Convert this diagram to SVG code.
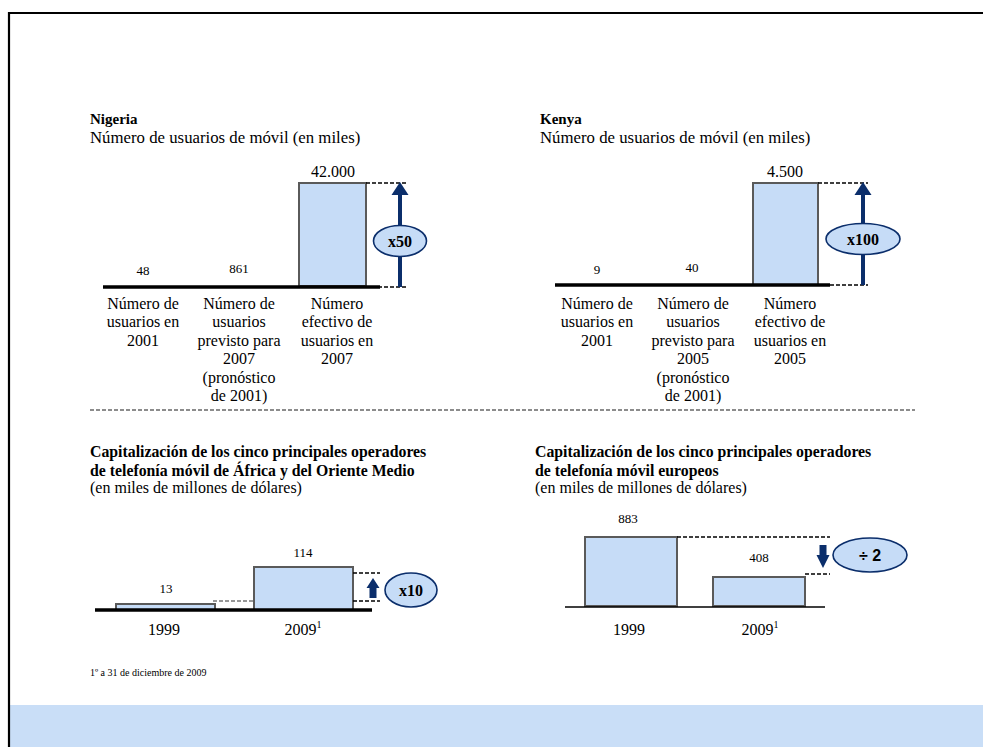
<svg xmlns="http://www.w3.org/2000/svg" width="983" height="747" viewBox="0 0 983 747">
<style>
.t{font-family:"Liberation Serif","Times New Roman",serif;fill:#000}
.b{font-weight:bold}
.s16{font-size:16px}
.sub{font-size:16.8px}
.s15{font-size:15px}
.s13{font-size:13px}
.m{text-anchor:middle}
.bar{fill:#c6dcf7;stroke:#5a5a5a;stroke-width:2}
.axis{stroke:#000;stroke-width:3.5}
.axt{stroke:#000;stroke-width:1.6}
.dk{stroke:#000;stroke-width:1.4;stroke-dasharray:4 2;fill:none}
.dg{stroke:#777;stroke-width:1.4;stroke-dasharray:4 2;fill:none}
.arr{stroke:#0b2e6b;stroke-width:4;fill:none}
.ah{fill:#0b2e6b}
.bub{fill:#c6dcf7;stroke:#0b2e6b;stroke-width:1.6}
.bt{font-family:"Liberation Serif","Times New Roman",serif;font-weight:bold;font-size:16px;text-anchor:middle;fill:#000}
</style>
<rect width="983" height="747" fill="#fff"/>
<rect x="9" y="705" width="974" height="42" fill="#c9def7"/>
<path d="M9,747 V13 H983" fill="none" stroke="#000" stroke-width="2.2"/>
<line x1="90" y1="410" x2="915" y2="410" stroke="#8c8c8c" stroke-width="2" stroke-dasharray="4 2"/>

<g id="nigeria">
<text class="t b s15" x="90" y="124">Nigeria</text>
<text class="t sub" x="90" y="142.5">Número de usuarios de móvil (en miles)</text>
<rect class="bar" x="299" y="183" width="67" height="103"/>
<line class="axis" x1="103" y1="287" x2="380" y2="287"/>
<text class="t s16 m" x="333" y="177">42.000</text>
<text class="t s13 m" x="143" y="275">48</text>
<text class="t s13 m" x="239" y="273">861</text>
<g class="t s16 m">
<text x="143" y="308.5">Número de</text>
<text x="143" y="327">usuarios en</text>
<text x="143" y="345.5">2001</text>
<text x="239" y="308.5">Número de</text>
<text x="239" y="327">usuarios</text>
<text x="239" y="345.5">previsto para</text>
<text x="239" y="364">2007</text>
<text x="239" y="382.5">(pronóstico</text>
<text x="239" y="401">de 2001)</text>
<text x="337" y="308.5">Número</text>
<text x="337" y="327">efectivo de</text>
<text x="337" y="345.5">usuarios en</text>
<text x="337" y="364">2007</text>
</g>
</g>

<g id="kenya">
<text class="t b s15" x="540" y="124">Kenya</text>
<text class="t sub" x="540" y="142.5">Número de usuarios de móvil (en miles)</text>
<rect class="bar" x="753" y="183" width="65" height="102"/>
<line class="axis" x1="555" y1="285" x2="830" y2="285"/>
<text class="t s16 m" x="785" y="177">4.500</text>
<text class="t s13 m" x="597" y="274">9</text>
<text class="t s13 m" x="692" y="272">40</text>
<g class="t s16 m">
<text x="597" y="308.5">Número de</text>
<text x="597" y="327">usuarios en</text>
<text x="597" y="345.5">2001</text>
<text x="693" y="308.5">Número de</text>
<text x="693" y="327">usuarios</text>
<text x="693" y="345.5">previsto para</text>
<text x="693" y="364">2005</text>
<text x="693" y="382.5">(pronóstico</text>
<text x="693" y="401">de 2001)</text>
<text x="790" y="308.5">Número</text>
<text x="790" y="327">efectivo de</text>
<text x="790" y="345.5">usuarios en</text>
<text x="790" y="364">2005</text>
</g>
</g>

<g id="africa">
<text class="t b" font-size="15.8" x="90" y="457">Capitalización de los cinco principales operadores</text>
<text class="t b" font-size="15.8" x="90" y="476">de telefonía móvil de África y del Oriente Medio</text>
<text class="t s16" x="90" y="493">(en miles de millones de dólares)</text>
<rect class="bar" x="116" y="604" width="99" height="6"/>
<rect class="bar" x="254" y="567" width="99" height="43"/>
<line class="axis" x1="95" y1="610" x2="372" y2="610"/>
<text class="t s13 m" x="166" y="593">13</text>
<text class="t s13 m" x="303" y="557">114</text>
<text class="t s16 m" x="164" y="635">1999</text>
<text class="t s16 m" x="303" y="635">2009<tspan font-size="10" dy="-7">1</tspan></text>
<text class="t" font-size="10" x="90" y="676">1º a 31 de diciembre de 2009</text>
</g>

<g id="europe">
<text class="t b" font-size="15.8" x="535" y="457">Capitalización de los cinco principales operadores</text>
<text class="t b" font-size="15.8" x="535" y="476">de telefonía móvil europeos</text>
<text class="t s16" x="535" y="493">(en miles de millones de dólares)</text>
<rect class="bar" x="585" y="537" width="92" height="69"/>
<rect class="bar" x="713" y="577" width="92" height="29"/>
<line class="axt" x1="565" y1="607" x2="825" y2="607"/>
<text class="t s13 m" x="628" y="523">883</text>
<text class="t s13 m" x="759" y="562">408</text>
<text class="t s16 m" x="629" y="635">1999</text>
<text class="t s16 m" x="760" y="635">2009<tspan font-size="10" dy="-7">1</tspan></text>
</g>

<g id="connectors">
<line class="dk" x1="366" y1="183" x2="408" y2="183"/>
<line class="dk" x1="366" y1="287" x2="408" y2="287" stroke-width="1"/>
<line class="arr" x1="400" y1="287" x2="400" y2="192"/>
<path class="ah" d="M400,182 L408.5,195 L391.5,195 Z"/>

<line class="dk" x1="818" y1="183" x2="868" y2="183"/>
<line class="dk" x1="818" y1="285" x2="868" y2="285" stroke-width="1"/>
<line class="arr" x1="863" y1="285" x2="863" y2="192"/>
<path class="ah" d="M863,182 L871.5,195 L854.5,195 Z"/>

<line class="dg" x1="213" y1="601" x2="254" y2="601"/>
<line class="dk" x1="353" y1="601" x2="380" y2="601"/>
<line class="dk" x1="353" y1="573" x2="380" y2="573"/>
<path class="ah" d="M373,578 L379.5,588 L376.5,588 L376.5,598 L369.5,598 L369.5,588 L366.5,588 Z"/>

<line class="dk" x1="677" y1="537" x2="830" y2="537"/>
<line class="dk" x1="805" y1="574" x2="830" y2="574"/>
<path class="ah" d="M823,568 L829.5,555 L826.5,555 L826.5,545 L819.5,545 L819.5,555 L816.5,555 Z"/>
</g>

<g id="bubble-x50">
<ellipse class="bub" cx="400" cy="241" rx="26.5" ry="15.5"/>
<text class="bt" x="400" y="247">x50</text>
</g>
<g id="bubble-x100">
<ellipse class="bub" cx="863" cy="239" rx="37" ry="15.5"/>
<text class="bt" x="863" y="245">x100</text>
</g>
<g id="bubble-x10">
<ellipse class="bub" cx="411" cy="590" rx="26" ry="17"/>
<text class="bt" x="411" y="596">x10</text>
</g>
<g id="bubble-div2">
<ellipse class="bub" cx="870" cy="555" rx="37" ry="17"/>
<text x="870" y="561" font-family="'Liberation Sans',Arial,sans-serif" font-weight="bold" font-size="16" text-anchor="middle">÷ 2</text>
</g>
</svg>
